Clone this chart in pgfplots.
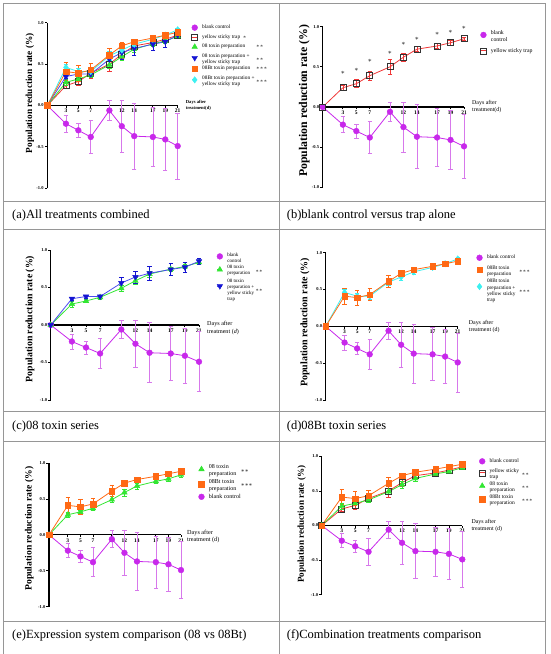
\documentclass[border=0pt]{standalone}
\usepackage{pgfplots}
\pgfplotsset{compat=1.18}
\usepackage{pgfplotstable}
\usepackage{fontspec}
\setmainfont{Liberation Serif}

\definecolor{cBlank}{RGB}{200,40,235}
\definecolor{cBlankE}{RGB}{215,120,235}
\definecolor{cRed}{RGB}{240,55,55}
\definecolor{cG}{RGB}{50,230,50}
\definecolor{cB}{RGB}{20,20,210}
\definecolor{cBl}{RGB}{75,75,240}
\definecolor{cO}{RGB}{255,105,20}
\definecolor{cC}{RGB}{60,240,240}
\definecolor{cGrid}{RGB}{150,150,150}

\pgfplotstableread{
d v e
0 0 0
3 -0.22 0.10
5 -0.30 0.085
7 -0.38 0.20
10 -0.06 0.12
12 -0.25 0.31
14 -0.37 0.40
17 -0.38 0.36
19 -0.41 0.37
21 -0.49 0.40
}\tblank
\pgfplotstableread{
d v e
0 0 0
3 0.24 0.03
5 0.29 0.05
7 0.39 0.06
10 0.50 0.09
12 0.62 0.05
14 0.72 0.03
17 0.76 0.03
19 0.80 0.03
21 0.85 0.02
}\ttrap
\pgfplotstableread{
d v e
0 0 0
3 0.28 0.04
5 0.32 0.02
7 0.37 0.03
10 0.49 0.04
12 0.59 0.05
14 0.68 0.04
17 0.745 0.03
19 0.78 0.03
21 0.835 0.03
}\tA
\pgfplotstableread{
d v e
0 0 0
3 0.35 0.02
5 0.38 0.02
7 0.38 0.02
10 0.56 0.08
12 0.64 0.08
14 0.69 0.09
17 0.74 0.08
19 0.77 0.07
21 0.85 0.04
}\tAT
\pgfplotstableread{
d v e
0 0 0
3 0.41 0.11
5 0.39 0.10
7 0.43 0.08
10 0.61 0.08
12 0.72 0.04
14 0.77 0.03
17 0.815 0.02
19 0.85 0.02
21 0.885 0.02
}\tB
\pgfplotstableread{
d v e
0 0 0
3 0.46 0.04
5 0.41 0.04
7 0.41 0.04
10 0.60 0.05
12 0.67 0.04
14 0.74 0.03
17 0.80 0.02
19 0.85 0.02
21 0.915 0.02
}\tBT
\pgfplotstableread{
d v
3 0.425
5 0.46
7 0.57
10 0.68
12 0.78
14 0.85
17 0.91
19 0.93
21 0.98
}\tstars

\tikzset{
 sBlank/.style={color=cBlank, line width=0.8pt, mark=*, mark size=2.9pt, mark options={solid, fill=cBlank, draw=cBlank, line width=0.4pt}},
 sTrap/.style={color=cRed, line width=0.8pt, mark=square, mark size=3pt, mark options={solid, draw=black!80, fill=none, line width=0.7pt}},
 s08/.style={color=cG, line width=0.8pt, mark=triangle*, mark size=3.2pt, mark options={solid, fill=cG, draw=cG, line width=0.4pt}},
 s08T/.style={color=cBl, line width=0.8pt, mark=triangle*, mark size=3.2pt, mark options={solid, fill=cB, draw=cB, rotate=180, line width=0.4pt}},
 sBt/.style={color=cO, line width=0.8pt, mark=square*, mark size=2.8pt, mark options={solid, fill=cO, draw=cO, line width=0.4pt}},
 sBtT/.style={color=cC, line width=0.8pt, mark=diamond*, mark size=3.2pt, mark options={solid, fill=cC, draw=cC, line width=0.4pt}},
}
\pgfplotsset{
 eb/.style={error bars/y dir=both, error bars/y explicit,
   error bars/error bar style={color=#1, line width=0.7pt},
   error bars/error mark options={rotate=90, color=#1, mark size=2.2pt, line width=0.7pt}},
 gp/.style={
  scale only axis, xmin=0, xmax=21, ymin=-1, ymax=1,
  axis x line=middle, axis y line=left,
  axis line style={line width=1.1pt, -, black},
  xtick={3,5,7,10,12,14,17,19,21},
  xticklabels={3,5,7,10,12,14,17,19,21},
  ytick={-1,-0.5,0,0.5,1},
  yticklabels={-1.0,-0.5,0.0,0.5,1.0},
  xticklabel style={font=\fontsize{5.5}{5.5}\selectfont\bfseries, inner sep=1pt, black},
  yticklabel style={font=\fontsize{4.5}{5}\selectfont\bfseries, inner sep=1pt, black},
  tick style={black, line width=0.8pt},
  major tick length=2.5pt,
  tick align=outside,
  hide obscured x ticks=false, hide obscured y ticks=false,
  clip=false,
  ylabel={Population reduction rate (\%)},
  legend image code/.code={\draw[##1, mark=none] (-2.6pt,0pt) -- (2.6pt,0pt); \draw[##1, only marks] plot coordinates {(0pt,0pt)};},
  legend style={draw=none, fill=none, anchor=north west, inner sep=0pt, column sep=4pt, nodes={inner sep=0.5pt}},
  legend cell align=left,
 }
}
\newcommand{\LE}[3]{\parbox[c]{#1}{\raggedright #2}#3}
\newcommand{\sa}{${\ast}$}
\newcommand{\sbb}{${\ast}{\ast}$}
\newcommand{\sccc}{${\ast}{\ast}{\ast}$}

\begin{document}
\begin{tikzpicture}[x=1pt,y=1pt]
\useasboundingbox (0,0) rectangle (550,654);
% table grid
\begin{scope}[cGrid, line width=0.8pt]
\draw (3.5,650.5) -- (545.5,650.5);
\draw (3.5,452.3) -- (545.5,452.3);
\draw (3.5,425) -- (545.5,425);
\draw (3.5,242.3) -- (545.5,242.3);
\draw (3.5,212.7) -- (545.5,212.7);
\draw (3.5,32.3) -- (545.5,32.3);
\draw (3.5,0) -- (3.5,650.5);
\draw (279.3,0) -- (279.3,650.5);
\draw (545.5,0) -- (545.5,650.5);
\end{scope}
\begin{scope}[font=\fontsize{12.5}{14}\selectfont]
\node[anchor=west, inner sep=0pt] at (12,439) {(a)All treatments combined};
\node[anchor=west, inner sep=0pt] at (286.7,439) {(b)blank control versus trap alone};
\node[anchor=west, inner sep=0pt] at (12,227.3) {(c)08 toxin series};
\node[anchor=west, inner sep=0pt] at (286.7,227.3) {(d)08Bt toxin series};
\node[anchor=west, inner sep=0pt] at (12,18.3) {(e)Expression system comparison (08 vs 08Bt)};
\node[anchor=west, inner sep=0pt] at (286.7,18.3) {(f)Combination treatments comparison};
\end{scope}

% ---------------- (a)
\begin{axis}[gp, at={(47.3pt,465.7pt)}, width=130.4pt, height=165.6pt,
 ylabel style={at={(axis description cs:-0.133,0.575)}, anchor=center, font=\fontsize{9.3}{10}\selectfont\bfseries},
 legend style={at={(axis description cs:1.106,0.990)}, font=\fontsize{5.3}{6}\selectfont, row sep=3.4pt}]
\addplot[sBlank, forget plot, eb=cBlankE] table[x=d,y=v,y error=e]{\tblank};
\addplot[sTrap, forget plot, eb=cRed] table[x=d,y=v,y error=e]{\ttrap};
\addplot[s08, forget plot, eb=cG] table[x=d,y=v,y error=e]{\tA};
\addplot[s08T, forget plot, eb=cB] table[x=d,y=v,y error=e]{\tAT};
\addplot[sBtT, forget plot, eb=cC] table[x=d,y=v,y error=e]{\tBT};
\addplot[sBt, forget plot, eb=cO] table[x=d,y=v,y error=e]{\tB};
\addlegendimage{sBlank}\addlegendentry{blank control}
\addlegendimage{sTrap}\addlegendentry{yellow sticky trap\ \ \sa}
\addlegendimage{s08}\addlegendentry{\LE{54pt}{08 toxin preparation}{\sbb}}
\addlegendimage{s08T}\addlegendentry{\LE{54pt}{08 toxin preparation +\\yellow sticky trap}{\sbb}}
\addlegendimage{sBt}\addlegendentry{\LE{54pt}{08Bt toxin preparation}{\sccc}}
\addlegendimage{sBtT}\addlegendentry{\LE{54pt}{08Bt toxin preparation +\\yellow sticky trap}{\sccc}}
\node[anchor=west, align=left, inner sep=0pt, font=\fontsize{4.6}{5.4}\selectfont\bfseries, xshift=8pt] at (axis cs:21,0) {Days after\\treatment(d)};
\end{axis}

% ---------------- (b)
\begin{axis}[gp, at={(322.7pt,466.7pt)}, width=141.3pt, height=160.6pt,
 ylabel style={at={(axis description cs:-0.130,0.539)}, anchor=center, font=\fontsize{11.8}{12}\selectfont\bfseries},
 legend style={at={(axis description cs:1.115,0.979)}, font=\fontsize{5.8}{6.6}\selectfont, row sep=8pt}]
\addplot[sBlank, forget plot, eb=cBlankE] table[x=d,y=v,y error=e]{\tblank};
\addplot[sTrap, forget plot, eb=cRed] table[x=d,y=v,y error=e]{\ttrap};
\addplot[forget plot, draw=none, mark=none, nodes near coords={${\ast}$}, nodes near coords align=center, every node near coord/.style={font=\fontsize{7}{7}\selectfont, black, inner sep=0pt}] table[x=d,y=v]{\tstars};
\addlegendimage{sBlank}\addlegendentry{\LE{24pt}{blank\\control}{}}
\addlegendimage{sTrap}\addlegendentry{yellow sticky trap}
\node[anchor=west, align=left, inner sep=0pt, font=\fontsize{5.9}{7}\selectfont, xshift=8pt] at (axis cs:21,0) {Days after\\treatment(d)};
\end{axis}

% ---------------- (c)
\begin{axis}[gp, at={(50.7pt,254pt)}, width=148.3pt, height=150pt,
 ylabel style={at={(axis description cs:-0.140,0.540)}, anchor=center, font=\fontsize{9.8}{10}\selectfont\bfseries},
 legend style={at={(axis description cs:1.119,0.987)}, font=\fontsize{5}{6}\selectfont, row sep=4.5pt}]
\addplot[sBlank, forget plot, eb=cBlankE] table[x=d,y=v,y error=e]{\tblank};
\addplot[s08, forget plot, eb=cG] table[x=d,y=v,y error=e]{\tA};
\addplot[s08T, forget plot, eb=cB] table[x=d,y=v,y error=e]{\tAT};
\addlegendimage{sBlank}\addlegendentry{\LE{28pt}{blank\\control}{}}
\addlegendimage{s08}\addlegendentry{\LE{28pt}{08 toxin\\preparation}{\sbb}}
\addlegendimage{s08T}\addlegendentry{\LE{28pt}{08 toxin\\preparation +\\yellow sticky\\trap}{\sbb}}
\node[anchor=west, align=left, inner sep=0pt, font=\fontsize{6.1}{7.2}\selectfont, xshift=8pt, yshift=-3pt] at (axis cs:21,0) {Days after\\treatment (\textit{d})};
\end{axis}

% ---------------- (d)
\begin{axis}[gp, at={(325.7pt,254pt)}, width=132pt, height=147.3pt,
 ylabel style={at={(axis description cs:-0.157,0.527)}, anchor=center, font=\fontsize{10}{10}\selectfont\bfseries},
 legend style={at={(axis description cs:1.141,0.988)}, font=\fontsize{5.3}{6.3}\selectfont, row sep=4.4pt}]
\addplot[sBlank, forget plot, eb=cBlankE] table[x=d,y=v,y error=e]{\tblank};
\addplot[sBtT, forget plot, eb=cC] table[x=d,y=v,y error=e]{\tBT};
\addplot[sBt, forget plot, eb=cO] table[x=d,y=v,y error=e]{\tB};
\addlegendimage{sBlank}\addlegendentry{blank control}
\addlegendimage{sBt}\addlegendentry{\LE{32pt}{08Bt toxin\\preparation}{\sccc}}
\addlegendimage{sBtT}\addlegendentry{\LE{32pt}{08Bt toxin\\preparation +\\yellow sticky\\trap}{\sccc}}
\node[anchor=west, align=left, inner sep=0pt, font=\fontsize{5.9}{7}\selectfont, xshift=11pt] at (axis cs:21,0) {Days after\\treatment (d)};
\end{axis}

% ---------------- (e)
\begin{axis}[gp, at={(49pt,47.3pt)}, width=132pt, height=143.7pt,
 ylabel style={at={(axis description cs:-0.149,0.544)}, anchor=center, font=\fontsize{9.6}{10}\selectfont\bfseries},
 legend style={at={(axis description cs:1.131,0.993)}, font=\fontsize{6}{7}\selectfont, row sep=4.5pt}]
\addplot[sBlank, forget plot, eb=cBlankE] table[x=d,y=v,y error=e]{\tblank};
\addplot[s08, forget plot, eb=cG] table[x=d,y=v,y error=e]{\tA};
\addplot[sBt, forget plot, eb=cO] table[x=d,y=v,y error=e]{\tB};
\addlegendimage{s08}\addlegendentry{\LE{32pt}{08 toxin\\preparation}{\sbb}}
\addlegendimage{sBt}\addlegendentry{\LE{32pt}{08Bt toxin\\preparation}{\sccc}}
\addlegendimage{sBlank}\addlegendentry{blank control}
\node[anchor=west, align=left, inner sep=0pt, font=\fontsize{6.2}{7.2}\selectfont, xshift=6pt, yshift=-2pt] at (axis cs:21,0) {Days after\\treatment (d)};
\end{axis}

% ---------------- (f)
\begin{axis}[gp, at={(321.7pt,59.3pt)}, width=140.6pt, height=138.4pt,
 ylabel style={at={(axis description cs:-0.142,0.509)}, anchor=center, font=\fontsize{9.1}{10}\selectfont\bfseries},
 legend style={at={(axis description cs:1.119,0.988)}, font=\fontsize{5.5}{6.3}\selectfont, row sep=3.7pt}]
\addplot[sBlank, forget plot, eb=cBlankE] table[x=d,y=v,y error=e]{\tblank};
\addplot[sTrap, forget plot, eb=cRed] table[x=d,y=v,y error=e]{\ttrap};
\addplot[s08, forget plot, eb=cG] table[x=d,y=v,y error=e]{\tA};
\addplot[sBt, forget plot, eb=cO] table[x=d,y=v,y error=e]{\tB};
\addlegendimage{sBlank}\addlegendentry{blank control}
\addlegendimage{sTrap}\addlegendentry{\LE{32pt}{yellow sticky\\trap}{\sbb}}
\addlegendimage{s08}\addlegendentry{\LE{32pt}{08 toxin\\preparation}{\sbb}}
\addlegendimage{sBt}\addlegendentry{\LE{32pt}{08Bt toxin\\preparation}{\sccc}}
\node[anchor=west, align=left, inner sep=0pt, font=\fontsize{5.9}{7}\selectfont, xshift=9pt] at (axis cs:21,0) {Days after\\treatment (d)};
\end{axis}
\end{tikzpicture}
\end{document}
